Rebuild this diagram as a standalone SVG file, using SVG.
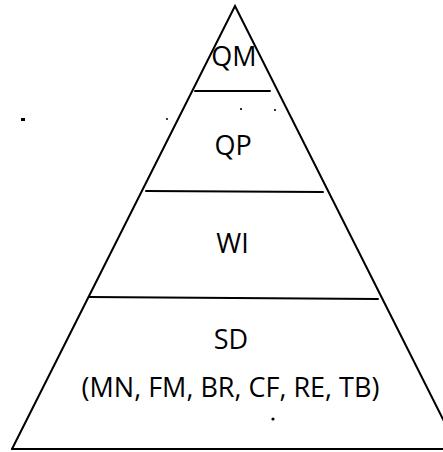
<svg xmlns="http://www.w3.org/2000/svg" width="443" height="452" viewBox="0 0 443 452">
  <style>
    .edge { stroke: #000; stroke-width: 2; fill: none; stroke-linecap: round; }
    .lbl { font-family: "Open Sans", "Noto Sans", "Liberation Sans", sans-serif; font-size: 27px; fill: #000; text-anchor: middle; }
    .speck { fill: #000; }
  </style>
  <rect width="443" height="452" fill="#fff"/>
  <!-- pyramid outline and tier dividers -->
  <g id="connectors">
    <path class="edge" d="M12,449 L235,6 L458,449"/>
    <line class="edge" x1="12" y1="449" x2="443" y2="449"/>
    <line class="edge" x1="195" y1="91" x2="270" y2="91"/>
    <line class="edge" x1="146" y1="191" x2="323" y2="192"/>
    <line class="edge" x1="89" y1="297" x2="378" y2="299"/>
  </g>
  <g id="tier-qm"><text class="lbl" x="234" y="66">QM</text></g>
  <g id="tier-qp"><text class="lbl" x="233" y="155">QP</text></g>
  <g id="tier-wi"><text class="lbl" x="232.5" y="253">WI</text></g>
  <g id="tier-sd">
    <text class="lbl" x="231" y="349">SD</text>
    <text class="lbl" x="230.5" y="397">(MN, FM, BR, CF, RE, TB)</text>
  </g>
  <!-- small marks -->
  <g id="marks">
    <circle class="speck" cx="273" cy="419" r="1.6"/>
    <circle class="speck" cx="241" cy="109" r="1.1"/>
    <circle class="speck" cx="275" cy="110" r="1.1"/>
    <circle class="speck" cx="167" cy="119" r="1"/>
    <path class="speck" d="M21,118 h4 v3 h-4 z"/>
  </g>
</svg>
